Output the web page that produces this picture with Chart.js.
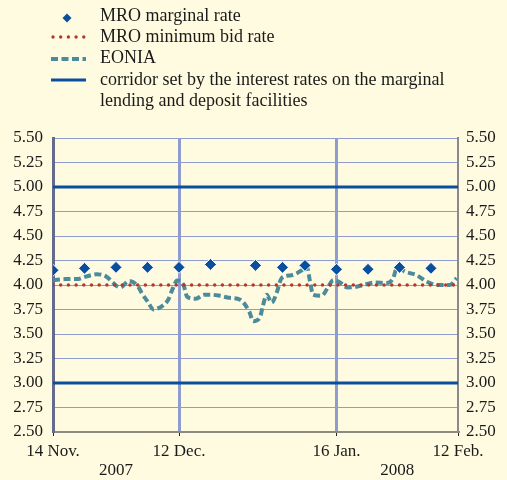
<!DOCTYPE html>
<html>
<head>
<meta charset="utf-8">
<script src="https://cdn.jsdelivr.net/npm/chart.js@4.4.0/dist/chart.umd.min.js"></script>
<style>
  html, body { margin: 0; padding: 0; background: #fffbe0; }
  #wrap { width: 507px; height: 480px; }
</style>
</head>
<body>
<div id="wrap"><canvas id="rates" width="507" height="480"></canvas></div>
<script>
// x values are days counted from 14 Nov. 2007
const tickDays = [0, 28, 63, 90];
const tickLabels = ["14 Nov.", "12 Dec.", "16 Jan.", "12 Feb."];
const yearDays = [14, 76.5];
const yearLabels = ["2007", "2008"];

const mroDays = [0, 7, 14, 21, 28, 35, 45, 51, 56, 63, 70, 77, 84];
const mroMarginal = [4.15, 4.17, 4.18, 4.18, 4.18, 4.21, 4.20, 4.18, 4.20, 4.16, 4.16, 4.18, 4.17];

const minBidDays = [0, 90];
const minBid = [4.00, 4.00];

const eoniaDays = [0, 2.7, 5.3, 7.3, 9.7, 11.9, 13.4, 14.9, 16.9, 18.9, 19.7, 21.2, 22.3, 24.4, 25.6,
  26.5, 27.6, 29, 29.8, 31.7, 33.6, 35.3, 37.1, 39.2, 41.6, 43.6, 44.5, 46, 46.6, 47.5, 48.6, 49.7,
  50.8, 53, 55.3, 56.4, 57.1, 57.8, 59.7, 61.2, 62.3, 63.8, 65.3, 67.1, 69, 71.6, 74.2, 75.6, 76.4,
  78.6, 80.8, 83, 85.3, 88.2, 89.7];
const eonia = [4.05, 4.06, 4.06, 4.085, 4.11, 4.085, 4.02, 3.975, 4.04, 3.985, 3.92, 3.82, 3.75, 3.79, 3.85,
  3.95, 4.045, 4.00, 3.88, 3.86, 3.90, 3.90, 3.89, 3.87, 3.85, 3.73, 3.63, 3.67, 3.78, 3.90, 3.82, 3.92,
  4.07, 4.10, 4.15, 4.19, 4.04, 3.90, 3.89, 3.985, 4.05, 4.025, 3.975, 3.98, 4.00, 4.025, 4.02, 4.07, 4.17,
  4.13, 4.10, 4.035, 4.00, 4.00, 4.07];

const corridorDays = [0, 90];
const lendingRate = [5.00, 5.00];
const depositRate = [3.00, 3.00];

const navy = "#0a4f9e";
const teal = "#4b8b9b";
const red = "#b5372f";
const grid = "#8e9ccf";
const font = "'Liberation Serif', 'Times New Roman', serif";

function pts(xs, ys) {
  return xs.map((x, i) => ({ x: x, y: ys[i] }));
}

// legend drawn at the top, plus the year labels under the axis
const extras = {
  id: "extras",
  afterDraw(chart) {
    const ctx = chart.ctx;
    const x = chart.scales.x;
    ctx.save();
    ctx.fillStyle = "#1a1a1a";
    ctx.font = "17px " + font;
    ctx.textBaseline = "middle";
    ctx.textAlign = "center";
    yearDays.forEach((d, i) => ctx.fillText(yearLabels[i], x.getPixelForValue(d), 471));

    const texts = ["MRO marginal rate", "MRO minimum bid rate", "EONIA",
      "corridor set by the interest rates on the marginal", "lending and deposit facilities"];
    const rows = [16, 37, 58, 80, 101];
    ctx.font = "18px " + font;
    ctx.textAlign = "left";
    texts.forEach((t, i) => ctx.fillText(t, 100, rows[i]));

    // markers
    ctx.fillStyle = navy;
    ctx.beginPath();
    ctx.moveTo(67, 13.5); ctx.lineTo(71.5, 18); ctx.lineTo(67, 22.5); ctx.lineTo(62.5, 18);
    ctx.closePath(); ctx.fill();

    ctx.fillStyle = red;
    for (let k = 0; k < 5; k++) {
      ctx.beginPath(); ctx.arc(53 + k * 7.7, 37, 1.7, 0, Math.PI * 2); ctx.fill();
    }
    ctx.strokeStyle = teal; ctx.lineWidth = 4; ctx.setLineDash([7, 3.5]);
    ctx.beginPath(); ctx.moveTo(51, 59); ctx.lineTo(86, 59); ctx.stroke();
    ctx.setLineDash([]);
    ctx.strokeStyle = navy; ctx.lineWidth = 3;
    ctx.beginPath(); ctx.moveTo(51, 80); ctx.lineTo(86, 80); ctx.stroke();
    ctx.restore();
  }
};

new Chart(document.getElementById("rates"), {
  type: "line",
  data: {
    datasets: [
      {
        label: "MRO marginal rate",
        type: "scatter",
        data: pts(mroDays, mroMarginal),
        pointStyle: "rectRot",
        pointRadius: 6,
        backgroundColor: navy,
        borderColor: "#ffffff",
        borderWidth: 1,
        order: 0
      },
      {
        label: "MRO minimum bid rate",
        data: pts(minBidDays, minBid),
        borderColor: red,
        borderWidth: 3.5,
        borderDash: [0, 7.7],
        borderCapStyle: "round",
        pointRadius: 0,
        order: 1
      },
      {
        label: "EONIA",
        data: pts(eoniaDays, eonia),
        borderColor: teal,
        borderWidth: 4,
        borderDash: [7, 3.5],
        cubicInterpolationMode: "monotone",
        pointRadius: 0,
        order: 2
      },
      {
        label: "corridor upper",
        data: pts(corridorDays, lendingRate),
        borderColor: navy,
        borderWidth: 3,
        pointRadius: 0,
        order: 3
      },
      {
        label: "corridor lower",
        data: pts(corridorDays, depositRate),
        borderColor: navy,
        borderWidth: 3,
        pointRadius: 0,
        order: 3
      }
    ]
  },
  options: {
    responsive: false,
    animation: false,
    layout: { padding: { top: 138, left: 0, right: 0, bottom: 0 } },
    plugins: { legend: { display: false }, tooltip: { enabled: false } },
    scales: {
      x: {
        type: "linear",
        min: 0,
        max: 90,
        afterBuildTicks: (s) => { s.ticks = tickDays.map(v => ({ value: v })); },
        afterFit: (s) => { s.height = 48; },
        grid: {
          color: (c) => (c.tick && (c.tick.value === 28 || c.tick.value === 63)) ? grid : "rgba(0,0,0,0)",
          lineWidth: 3,
          tickColor: "#222",
          tickWidth: 1,
          tickLength: 4
        },
        border: { color: "#8c8b80", width: 2 },
        ticks: {
          color: "#1a1a1a",
          font: { family: font, size: 17 },
          padding: 5,
          maxRotation: 0,
          autoSkip: false,
          callback: (v) => tickLabels[tickDays.indexOf(v)]
        }
      },
      y: {
        position: "left",
        min: 2.5,
        max: 5.5,
        afterFit: (s) => { s.width = 53; },
        grid: { color: grid, lineWidth: 1, drawTicks: false },
        border: { color: "#646b8c", width: 3 },
        ticks: {
          stepSize: 0.25,
          color: "#1a1a1a",
          padding: 10,
          font: { family: font, size: 17 },
          callback: (v) => v.toFixed(2)
        }
      },
      y2: {
        position: "right",
        min: 2.5,
        max: 5.5,
        afterFit: (s) => { s.width = 49; },
        grid: { display: false, drawTicks: false },
        border: { color: "#8a8a8a", width: 2 },
        ticks: {
          stepSize: 0.25,
          color: "#1a1a1a",
          padding: 8,
          font: { family: font, size: 17 },
          callback: (v) => v.toFixed(2)
        }
      }
    }
  },
  plugins: [extras]
});
</script>
</body>
</html>
